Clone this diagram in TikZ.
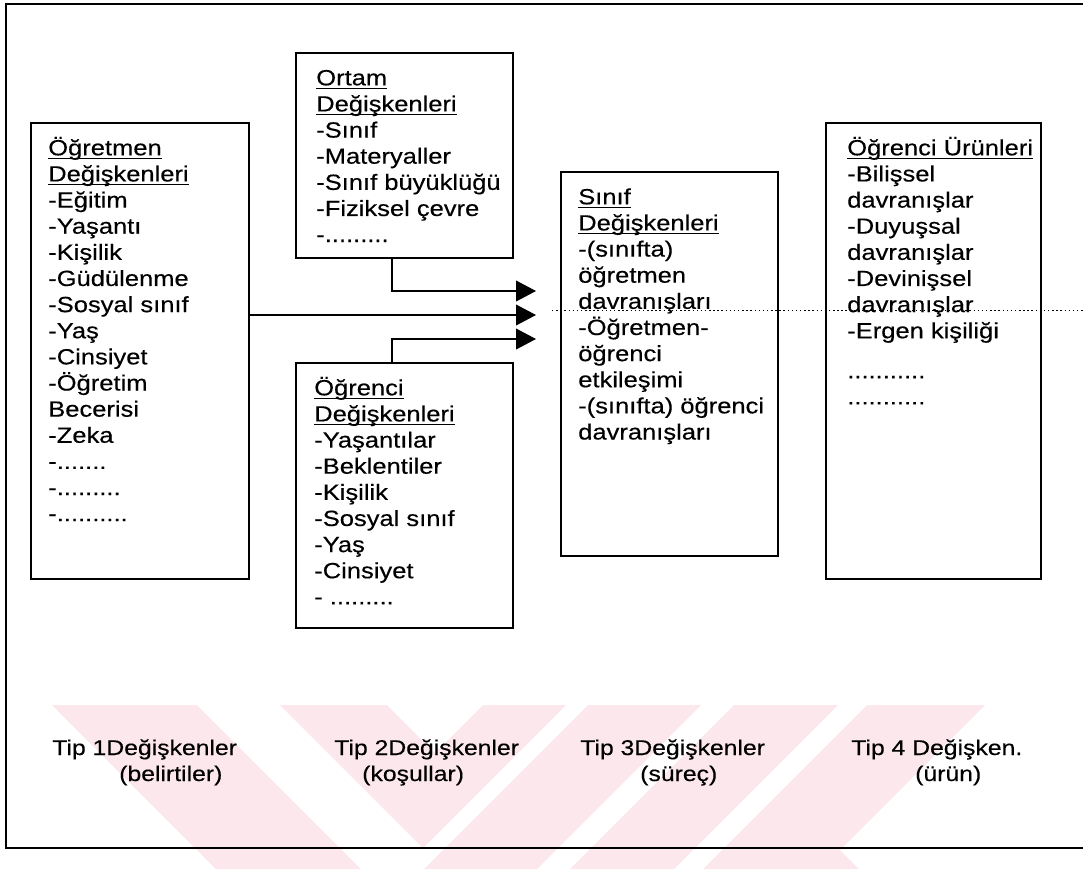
\documentclass[tikz,border=0pt]{standalone}
\usepackage{fontspec}
\setmainfont{Liberation Sans}[FakeStretch=1.16,FakeBold=0.35]
\usetikzlibrary{arrows.meta}
\definecolor{wm}{RGB}{252,231,236}
\newcommand\ulw[1]{\setbox0\hbox{#1}\rlap{\rule[-2.6pt]{\wd0}{0.9pt}}\box0}
\newcommand\fst{\rule{0pt}{16pt}}
\begin{document}
\begin{tikzpicture}[x=0.75pt,y=-0.75pt,
  box/.style={draw, line width=1.3pt, rectangle, inner sep=0pt, anchor=north west},
  txt/.style={anchor=north west, inner sep=0pt, align=left, font=\fontsize{16.5}{19.6}\selectfont},
  lbl/.style={anchor=base west, inner sep=0pt, font=\fontsize{16}{19.6}\selectfont},
  arr/.style={line width=1.3pt, -{Triangle[length=15pt,width=15.5pt]}},
  frameline/.style={line width=1.1pt},
  dotline/.style={line width=0.7pt, dash pattern=on 1.1pt off 2pt}]
\useasboundingbox (0,0) rectangle (1083,869);
\begin{scope}
\clip (0,0) rectangle (1083,869);
% watermark
\fill[wm] (52,705) -- (197,705) -- (361,869) -- (216,869) -- cycle;
\fill[wm] (280,705) -- (387,705) -- (435,753) -- (483,705) -- (566,705) -- (423,848) -- cycle;
\fill[wm] (588,705) -- (701,705) -- (537,869) -- (424,869) -- cycle;
\fill[wm] (734,705) -- (838,705) -- (674,869) -- (570,869) -- cycle;
\fill[wm] (867,705) -- (985,705) -- (840,850) -- (859,869) -- (703,869) -- cycle;
\end{scope}
% frame
\coordinate (ftl) at (6,4);
\coordinate (ftr) at (1083,4);
\coordinate (fbl) at (6,848);
\coordinate (fbr) at (1083,848);
\draw[frameline] (ftr) -- (ftl) -- (fbl) -- (fbr);
% boxes
\node[box, minimum width=163.5pt, minimum height=342pt] (b1) at (30,122) {};
\node[box, minimum width=162.75pt, minimum height=153.75pt] (b2) at (295,52) {};
\node[box, minimum width=162.75pt, minimum height=198.75pt] (b3) at (295,362) {};
\node[box, minimum width=162.75pt, minimum height=288pt] (b4) at (560,171) {};
\node[box, minimum width=161.25pt, minimum height=342pt] (b5) at (825,122) {};
% texts
\node[txt] (t1) at (48,133.7) {\fst\ulw{Öğretmen}\\ \ulw{Değişkenleri}\\ -Eğitim\\ -Yaşantı\\ -Kişilik\\ -Güdülenme\\ -Sosyal sınıf\\ -Yaş\\ -Cinsiyet\\ -Öğretim\\ Becerisi\\ -Zeka\\ -.......\\ -.........\\ -..........};
\node[txt] (t2) at (316,63.7) {\fst\ulw{Ortam}\\ \ulw{Değişkenleri}\\ -Sınıf\\ -Materyaller\\ -Sınıf büyüklüğü\\ -Fiziksel çevre\\ -.........};
\node[txt] (t3) at (314,373.7) {\fst\ulw{Öğrenci}\\ \ulw{Değişkenleri}\\ -Yaşantılar\\ -Beklentiler\\ -Kişilik\\ -Sosyal sınıf\\ -Yaş\\ -Cinsiyet\\ - .........};
\node[txt] (t4) at (578,182.7) {\fst\ulw{Sınıf}\\ \ulw{Değişkenleri}\\ -(sınıfta)\\ öğretmen\\ davranışları\\ -Öğretmen-\\ öğrenci\\ etkileşimi\\ -(sınıfta) öğrenci\\ davranışları};
\node[txt] (t5) at (847,133.7) {\fst\ulw{Öğrenci Ürünleri}\\ -Bilişsel\\ davranışlar\\ -Duyuşsal\\ davranışlar\\ -Devinişsel\\ davranışlar\\ -Ergen kişiliği};
\node[txt] (t5d) at (847,356.7) {\fst...........\\ ...........};
% arrows
\coordinate (k1) at (392,0);
\coordinate (e1) at (536,291);
\coordinate (e2) at (536,315);
\coordinate (e3) at (536,339);
\draw[arr] (b2.south -| k1) |- (e1);
\draw[arr] (b1.east |- e2) -- (e2);
\draw[arr] (b3.north -| k1) |- (e3);
% dotted line
\coordinate (dl) at (552,310);
\coordinate (dr) at (1083,310);
\draw[dotline] (dl) -- (dr);
% bottom labels
\node[lbl] (l1a) at (52,755) {Tip 1Değişkenler};
\node[lbl] (l1b) at (119,781) {(belirtiler)};
\node[lbl] (l2a) at (334,755) {Tip 2Değişkenler};
\node[lbl] (l2b) at (362,781) {(koşullar)};
\node[lbl] (l3a) at (580,755) {Tip 3Değişkenler};
\node[lbl] (l3b) at (640,781) {(süreç)};
\node[lbl] (l4a) at (851,755) {Tip 4 Değişken.};
\node[lbl] (l4b) at (915,781) {(ürün)};
\end{tikzpicture}
\end{document}
